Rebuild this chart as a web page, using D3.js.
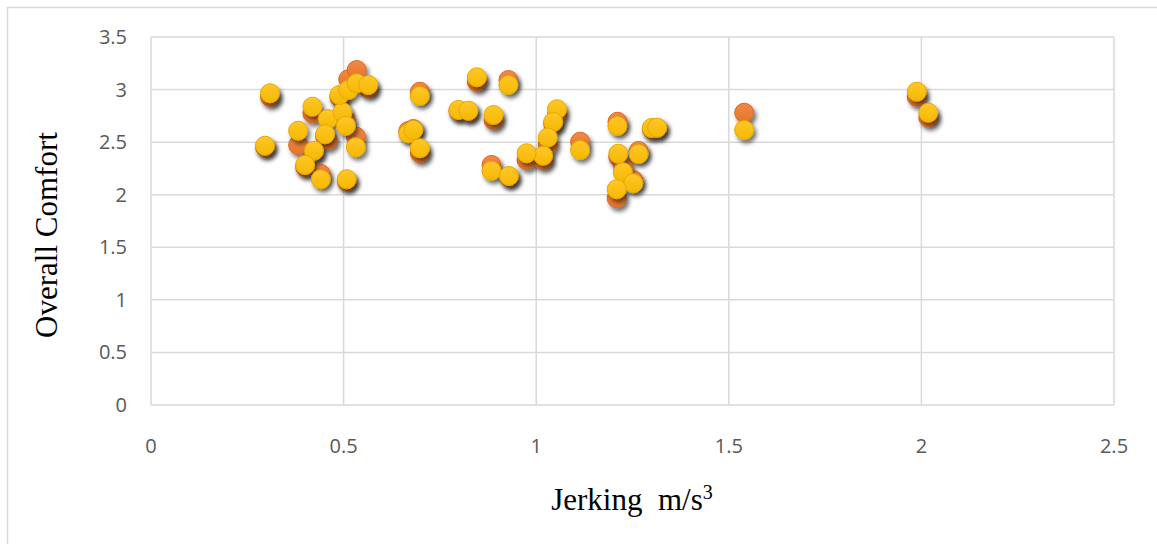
<!DOCTYPE html>
<html>
<head>
<meta charset="utf-8">
<script src="https://cdn.jsdelivr.net/npm/d3@7"></script>
<style>
  body { margin: 0; background: #fff; }
  .tick-label { font-family: 'Open Sans', sans-serif; font-size: 20px; fill: #595959; }
  .axis-title { font-family: 'Liberation Serif', 'Times New Roman', serif; font-size: 31px; fill: #000; }
</style>
</head>
<body>
<svg id="chart" width="1157" height="544"></svg>
<script>
// jerking values (m/s^3), one per trip
const jerking = [0.309, 0.296, 0.419, 0.382, 0.423, 0.400, 0.441, 0.508, 0.459, 0.452,
  0.497, 0.506, 0.489, 0.512, 0.534, 0.564, 0.532, 0.698, 0.668, 0.681,
  0.698, 0.846, 0.928, 0.798, 0.824, 0.889, 0.884, 0.929, 1.054, 1.044,
  1.030, 1.018, 0.975, 1.114, 1.211, 1.300, 1.314, 1.213, 1.266, 1.225,
  1.252, 1.209, 1.540, 1.988, 2.018];

// overall comfort, orange series
const comfortOrange = [2.932, 2.454, 2.774, 2.473, 2.406, 2.264, 2.197, 2.131, 2.520, 2.558,
  2.758, 2.711, 2.929, 3.098, 3.186, 3.012, 2.552, 2.980, 2.606, 2.625,
  2.397, 3.075, 3.091, 2.796, 2.787, 2.711, 2.283, 2.169, 2.758, 2.679,
  2.473, 2.330, 2.330, 2.504, 2.694, 2.625, 2.630, 2.360, 2.416, 2.283,
  2.140, 1.966, 2.780, 2.932, 2.736];

// overall comfort, yellow series
const comfortYellow = [2.965, 2.466, 2.837, 2.609, 2.419, 2.283, 2.147, 2.147, 2.720, 2.575,
  2.784, 2.656, 2.948, 2.996, 3.060, 3.044, 2.451, 2.939, 2.584, 2.616,
  2.442, 3.117, 3.044, 2.806, 2.799, 2.758, 2.228, 2.178, 2.813, 2.692,
  2.544, 2.371, 2.394, 2.425, 2.654, 2.635, 2.637, 2.390, 2.387, 2.213,
  2.109, 2.052, 2.616, 2.980, 2.780];

const xTicks = [0, 0.5, 1, 1.5, 2, 2.5];
const yTicks = [0, 0.5, 1, 1.5, 2, 2.5, 3, 3.5];

const svg = d3.select('#chart');

const xscale = d3.scaleLinear().domain([0, 2.5]).range([151, 1114]);
const yscale = d3.scaleLinear().domain([0, 3.5]).range([405, 37]);

// outer chart border (only top and left show)
svg.append('line').attr('x1', 7).attr('x2', 1157).attr('y1', 7.5).attr('y2', 7.5)
  .attr('stroke', '#d9d9d9').attr('stroke-width', 1.5);
svg.append('line').attr('x1', 7.5).attr('x2', 7.5).attr('y1', 7).attr('y2', 544)
  .attr('stroke', '#d9d9d9').attr('stroke-width', 1.5);

const defs = svg.append('defs');
const shadow = defs.append('filter').attr('id', 'shadow')
  .attr('x', '-50%').attr('y', '-50%').attr('width', '200%').attr('height', '200%');
shadow.append('feDropShadow')
  .attr('dx', 2.5).attr('dy', 3.5).attr('stdDeviation', 2.2)
  .attr('flood-color', '#000').attr('flood-opacity', 0.55);

const makeGrad = (id, top, bottom) => {
  const g = defs.append('linearGradient').attr('id', id)
    .attr('x1', 0).attr('y1', 0).attr('x2', 0).attr('y2', 1);
  g.append('stop').attr('offset', '0%').attr('stop-color', top);
  g.append('stop').attr('offset', '100%').attr('stop-color', bottom);
};
makeGrad('gradOrange', '#f08a45', '#e8732a');
makeGrad('gradYellow', '#ffc72a', '#f5b800');

// gridlines
const grid = svg.append('g');
grid.selectAll('line.v')
  .data(xTicks)
  .enter().append('line')
  .attr('x1', (d) => xscale(d)).attr('x2', (d) => xscale(d))
  .attr('y1', yscale(0)).attr('y2', yscale(3.5))
  .attr('stroke', '#d9d9d9').attr('stroke-width', 1.5);
grid.selectAll('line.h')
  .data(yTicks)
  .enter().append('line')
  .attr('x1', xscale(0)).attr('x2', xscale(2.5))
  .attr('y1', (d) => yscale(d)).attr('y2', (d) => yscale(d))
  .attr('stroke', '#d9d9d9').attr('stroke-width', 1.5);

// tick labels
svg.append('g').selectAll('text')
  .data(yTicks)
  .enter().append('text')
  .attr('class', 'tick-label')
  .attr('x', 127)
  .attr('y', (d) => yscale(d))
  .attr('dy', '0.35em')
  .attr('text-anchor', 'end')
  .text((d) => d);

svg.append('g').selectAll('text')
  .data(xTicks)
  .enter().append('text')
  .attr('class', 'tick-label')
  .attr('x', (d) => xscale(d))
  .attr('y', 446)
  .attr('dy', '0.35em')
  .attr('text-anchor', 'middle')
  .text((d) => d);

// points
const drawSeries = (values, fill, stroke) => {
  svg.append('g')
    .attr('filter', 'url(#shadow)')
    .selectAll('circle')
    .data(values.map((v, i) => ({ x: jerking[i], y: v })))
    .enter().append('circle')
    .attr('cx', (d) => xscale(d.x))
    .attr('cy', (d) => yscale(d.y))
    .attr('r', 9.5)
    .attr('fill', fill)
    .attr('stroke', stroke)
    .attr('stroke-width', 1);
};
drawSeries(comfortOrange, 'url(#gradOrange)', '#d9681f');
drawSeries(comfortYellow, 'url(#gradYellow)', '#e6a800');

// axis titles
svg.append('text')
  .attr('class', 'axis-title')
  .attr('transform', 'translate(57, 235) rotate(-90)')
  .attr('text-anchor', 'middle')
  .text('Overall Comfort');

const xt = svg.append('text')
  .attr('class', 'axis-title')
  .attr('x', 632)
  .attr('y', 510)
  .attr('text-anchor', 'middle')
  .style('white-space', 'pre');
xt.append('tspan').text('Jerking  m/s');
xt.append('tspan').attr('dy', -11).style('font-size', '20px').text('3');
</script>
</body>
</html>
